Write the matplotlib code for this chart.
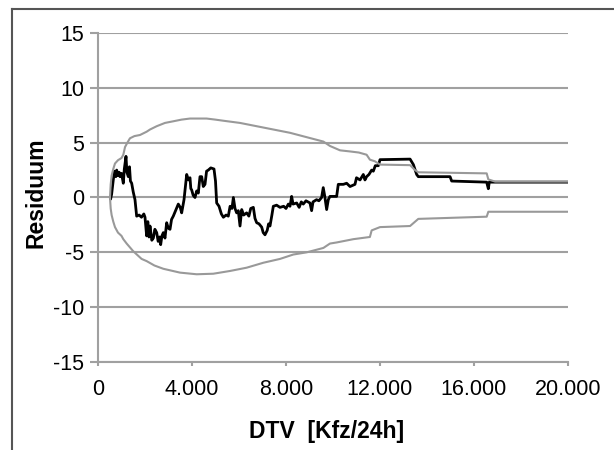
import matplotlib.pyplot as plt
from matplotlib.lines import Line2D

plt.rcParams['font.family'] = ['Liberation Sans', 'DejaVu Sans']
plt.rcParams['axes.unicode_minus'] = False

# residual path over traffic volume
dtv = [540, 580, 650, 700, 760, 795, 850, 900, 936, 1000, 1077, 1120, 1191, 1230, 1290,
       1340, 1380, 1433, 1500, 1574, 1645, 1750, 1850, 1950, 2000, 2070, 2120, 2170, 2213,
       2290, 2355, 2420, 2497, 2560, 2620, 2667, 2720, 2780, 2850, 2922, 2990, 3064, 3130,
       3204, 3300, 3417, 3500, 3560, 3660, 3774, 3850, 3915, 3950, 3985, 4050, 4128, 4200,
       4268, 4340, 4412, 4480, 4553, 4620, 4694, 4800, 4936, 5000, 5050, 5150, 5250, 5335,
       5450, 5545, 5620, 5700, 5760, 5830, 5900, 5970, 6043, 6115, 6200, 6326, 6420, 6500,
       6610, 6680, 6752, 6850, 6965, 7030, 7106, 7200, 7260, 7319, 7400, 7460, 7600, 7745,
       7900, 8000, 8100, 8170, 8240, 8300, 8455, 8560, 8650, 8735, 8850, 9020, 9090, 9150,
       9300, 9400, 9515, 9585, 9650, 9730, 9800, 9870, 10155, 10225, 10300, 10440, 10580,
       10725, 10935, 11000, 11150, 11290, 11360, 11430, 11530, 11645, 11715, 11800, 11930,
       12000, 13280, 13420, 13560, 13630, 14980, 15050, 16540, 16610, 16650, 20000]
residuum = [-0.1, 0.3, 1.6, 2.4, 1.9, 2.5, 2.0, 2.3, 1.9, 2.2, 1.3, 2.6, 3.75, 2.3, 1.9,
            2.8, 1.5, 1.3, 0.5, -0.2, -1.7, -1.6, -1.8, -1.5, -1.8, -3.5, -2.2, -3.6, -2.6,
            -3.9, -3.7, -2.9, -3.2, -4.0, -3.6, -4.3, -3.5, -3.2, -3.7, -2.3, -2.8, -2.9, -2.0,
            -1.7, -1.2, -0.6, -0.9, -1.4, -0.2, 2.1, 1.6, 1.8, 0.8, 0.7, 0.2, 0.0, 0.6,
            0.4, 1.9, 1.9, 1.0, 1.2, 2.4, 2.5, 2.7, 2.6, 1.5, -0.5, -0.8, -1.5, -1.8,
            -1.6, -1.7, -0.8, -1.0, 0.0, -1.0, -1.4, -1.2, -2.6, -1.1, -1.6, -1.4, -1.7, -1.0,
            -0.9, -1.9, -2.3, -2.4, -2.7, -3.2, -3.4, -3.0, -2.4, -2.6, -1.6, -0.8, -0.7, -0.9,
            -0.8, -1.0, -0.6, -0.8, 0.1, -0.6, -0.5, -0.9, -0.4, -0.6, -0.3, -0.5, -1.2, -0.4,
            -0.2, -0.3, 0.0, 0.9, 0.1, -1.1, -0.2, 0.1, 0.1, 1.2, 1.2, 1.2, 1.3,
            1.0, 1.2, 1.8, 1.6, 2.1, 1.6, 1.9, 2.1, 2.5, 2.4, 2.9, 2.9,
            3.45, 3.5, 3.0, 2.1, 1.9, 1.9, 1.5, 1.4, 0.8, 1.4, 1.4]

# confidence band
dtv_upper = [510, 540, 580, 650, 723, 850, 1000, 1077, 1150, 1250, 1360, 1550, 1787, 2070,
             2213, 2497, 2850, 3204, 3550, 3915, 4620, 5000, 5335, 6043, 6752, 7460, 8170,
             8880, 9590, 9870, 10300, 10725, 11100, 11430, 11570, 11785, 12000, 13280,
             13490, 13630, 16540, 16610, 16900, 20000]
upper = [0.0, 1.2, 2.0, 2.6, 3.1, 3.4, 3.6, 3.9, 4.6, 5.0, 5.4, 5.6, 5.7, 6.0,
         6.2, 6.5, 6.8, 6.95, 7.1, 7.2, 7.2, 7.1, 7.0, 6.8, 6.5, 6.2, 5.9,
         5.5, 5.1, 4.7, 4.3, 4.2, 4.1, 3.9, 3.45, 3.3, 3.0, 2.95,
         2.5, 2.3, 2.2, 1.65, 1.45, 1.45]
dtv_lower = [510, 540, 580, 650, 723, 850, 1000, 1077, 1220, 1500, 1855, 2070, 2400, 2780,
             3490, 4196, 4906, 5617, 6326, 7035, 7745, 8310, 8880, 9590, 9870, 10155, 10865,
             11570, 11645, 12000, 13280, 13630, 16540, 16610, 20000]
lower = [0.0, -1.0, -1.6, -2.2, -2.7, -3.2, -3.5, -3.8, -4.2, -4.9, -5.6, -5.8, -6.2, -6.5,
         -6.85, -7.0, -6.95, -6.7, -6.4, -5.95, -5.6, -5.2, -5.0, -4.6, -4.2, -4.1, -3.8,
         -3.6, -3.0, -2.7, -2.6, -1.95, -1.75, -1.3, -1.3]

x_ticks = [0, 4000, 8000, 12000, 16000, 20000]
x_ticklabels = ['0', '4.000', '8.000', '12.000', '16.000', '20.000']
y_ticks = [-15, -10, -5, 0, 5, 10, 15]

grey = '#a0a0a0'

fig = plt.figure(figsize=(6.14, 4.5), dpi=100)
ax = fig.add_axes([98/614, 1 - 362/450, 470/614, 329/450])

ax.plot(dtv, residuum, color='black', lw=2.0, zorder=3)
ax.plot(dtv_upper, upper, color='#999999', lw=1.5, zorder=4)
ax.plot(dtv_lower, lower, color='#999999', lw=1.5, zorder=4)

ax.set_xlim(0, 20000)
ax.set_ylim(-15, 15)
ax.set_xticks(x_ticks)
ax.set_xticklabels(x_ticklabels)
ax.set_yticks(y_ticks)

ax.grid(axis='y', color=grey, lw=1.5)
ax.set_axisbelow(True)
for side in ['top', 'right']:
    ax.spines[side].set_visible(False)
for side in ['left', 'bottom']:
    ax.spines[side].set_color(grey)
    ax.spines[side].set_linewidth(1.5)

ax.tick_params(axis='y', length=6, width=1.5, color=grey, labelsize=15.5, pad=4)
ax.tick_params(axis='x', length=3, width=1.5, color=grey, labelsize=15.5, pad=9.5)

ax.set_xlabel('DTV  [Kfz/24h]', fontsize=16.5, fontweight='bold', va='baseline')
ax.set_ylabel('Residuum', fontsize=16.5, fontweight='bold', va='baseline')
ax.xaxis.set_label_coords(0.487, -76/329)
ax.yaxis.set_label_coords(-55/470, 0.514)

# outer chart frame (only left and top edges fall inside the image)
fig.add_artist(Line2D([12/614, 12/614], [0, 1 - 9/450], color='#555555', lw=1.5))
fig.add_artist(Line2D([12/614, 1], [1 - 9/450, 1 - 9/450], color='#555555', lw=1.5))

fig.savefig('out.png', dpi=100)
